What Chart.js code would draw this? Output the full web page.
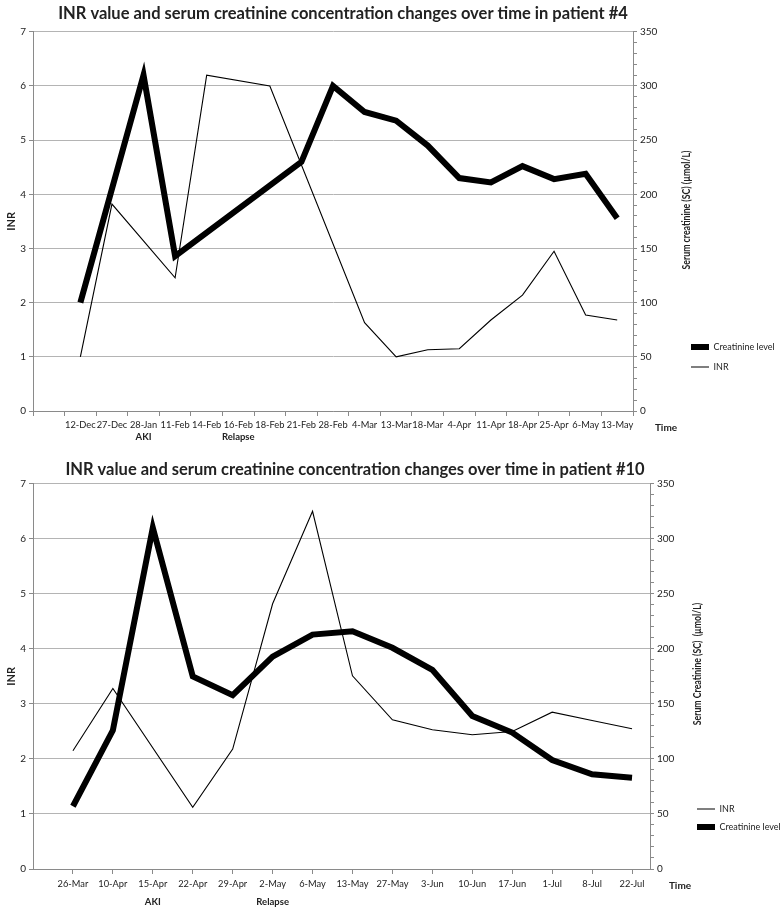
<!DOCTYPE html>
<html><head><meta charset="utf-8">
<script src="https://cdn.jsdelivr.net/npm/chart.js@4"></script>
<style>html,body{margin:0;padding:0;background:#fff} canvas{display:block}</style>
</head><body>
<canvas id="c1" width="782" height="455"></canvas>
<canvas id="c2" width="782" height="455"></canvas>
<script>
// ---------- Patient #4 ----------
const p4Title = 'INR value and serum creatinine concentration changes over time in patient #4';
const p4Dates = ['12-Dec','27-Dec','28-Jan','11-Feb','14-Feb','16-Feb','18-Feb','21-Feb','28-Feb','4-Mar','13-Mar','18-Mar','4-Apr','11-Apr','18-Apr','25-Apr','6-May','13-May'];
const p4Events = ['','','AKI','','','Relapse','','','','','','','','','','','',''];
const p4Creatinine = [100,null,310,143,null,null,null,230,300,276,268,245,215,211,226,214,219,178];
const p4INR = [1.0,3.82,null,2.46,6.2,null,6.0,null,null,1.63,1.0,1.13,1.15,1.68,2.14,2.95,1.77,1.68];
const p4RightTitle = 'Serum creatinine (SC) (\u00b5mol/L)';

// ---------- Patient #10 ----------
const p10Title = 'INR value and serum creatinine concentration changes over time in patient #10';
const p10Dates = ['26-Mar','10-Apr','15-Apr','22-Apr','29-Apr','2-May','6-May','13-May','27-May','3-Jun','10-Jun','17-Jun','1-Jul','8-Jul','22-Jul'];
const p10Events = ['','','AKI','','','Relapse','','','','','','','','',''];
const p10INR = [2.15,3.28,null,1.12,2.18,4.82,6.5,3.51,2.71,2.53,2.44,2.5,2.85,2.7,2.55];
const p10Creatinine = [57,126,310,175,158,193,213,216,201,181,139,124,99,86,83];
const p10RightTitle = 'Serum Creatinine (SC)  (\u00b5mol/L)';

// ---------- shared axis labels ----------
const inrTicks = [0,1,2,3,4,5,6,7];
const creatTicks = [0,50,100,150,200,250,300,350];
const creatMinorStep = 10;
const leftTitle = 'INR';
const timeLabel = 'Time';
const creatLabel = 'Creatinine level';
const inrLabel = 'INR';

Chart.defaults.font.family = 'Lato, "Open Sans", sans-serif';
Chart.defaults.color = '#222';

const GRID = '#b4b4b4';
const AXIS = '#8a8a8a';

function pts(arr){ return arr.map((v,i)=>({x:i, y:v})); }

const tweak = {
  id: 'tweak',
  afterLayout(chart, args, o) {
    const t = chart.titleBlock;
    if (t) { t.left += o.titleShift; t.right += o.titleShift; }
    const lg = chart.legend;
    if (lg) { lg.left = o.legendX; lg.top = o.legendY; lg.right = chart.width; lg.bottom = o.legendY + 80; }
  },
  afterDraw(chart, args, o) {
    const ctx = chart.ctx;
    ctx.save();
    ctx.fillStyle = '#222';
    ctx.font = 'bold 10.5px Lato, sans-serif';
    ctx.textAlign = 'center';
    ctx.textBaseline = 'middle';
    ctx.translate(o.rtX, o.rtY);
    ctx.rotate(-Math.PI/2);
    ctx.scale(0.83, 1);
    ctx.fillText(o.rightTitle, 0, 0);
    ctx.restore();
    ctx.save();
    ctx.fillStyle = '#222';
    ctx.font = 'bold 10px Lato, sans-serif';
    ctx.textAlign = 'center';
    ctx.textBaseline = 'middle';
    ctx.fillText(timeLabel, o.timeX, o.timeY);
    ctx.restore();
  }
};

function build(id, cfg) {
  const n = cfg.dates.length;
  const xTickVals = [];
  if (cfg.between) { for (let v = cfg.xMin; v <= cfg.xMax + 1e-9; v += 0.5) xTickVals.push(v); }
  else { for (let v = 0; v < n; v++) xTickVals.push(v); }
  const isLabel = v => Number.isInteger(v) && v >= 0 && v < n;
  new Chart(document.getElementById(id), {
    type: 'line',
    data: { datasets: cfg.series.map(s => ({
      label: s.label, data: pts(s.data), yAxisID: s.axis,
      borderColor: '#000', backgroundColor: '#000', borderWidth: s.width,
      pointRadius: 0, pointHoverRadius: 0, tension: 0, spanGaps: true,
      borderCapStyle: 'butt', borderJoinStyle: 'miter'
    })) },
    options: {
      responsive: false, animation: false,
      layout: { padding: 0 },
      plugins: {
        title: { display: true, text: cfg.title, color: '#222',
          font: { size: 16.5, weight: 'bold' }, padding: cfg.titlePad },
        legend: { display: true, position: 'chartArea', align: 'start',
          labels: { usePointStyle: true, pointStyle: 'line', pointStyleWidth: 18, boxHeight: 10,
            font: { size: 9 }, color: '#222', padding: cfg.legendPad } },
        tooltip: { enabled: false },
        tweak: cfg.tweak
      },
      scales: {
        x: { type: 'linear', position: 'bottom', min: cfg.xMin, max: cfg.xMax, weight: 0,
          afterBuildTicks: s => { s.ticks = xTickVals.map(v => ({ value: v })); },
          afterFit: s => { s.height = cfg.xH; },
          ticks: { autoSkip: false, maxRotation: 0, minRotation: 0, padding: cfg.xPad,
            font: { size: 9.3 }, color: '#222',
            callback: v => isLabel(v) ? cfg.dates[v] : '' },
          grid: { drawOnChartArea: false, tickLength: 5,
            tickColor: c => (cfg.between ? !Number.isInteger(c.tick.value) : true) ? AXIS : 'rgba(0,0,0,0)' },
          border: { color: AXIS }
        },
        x2: { type: 'linear', position: 'bottom', min: cfg.xMin, max: cfg.xMax, weight: 1,
          afterBuildTicks: s => { s.ticks = cfg.dates.map((d, i) => ({ value: i })); },
          afterFit: s => { s.height = cfg.x2H; },
          ticks: { autoSkip: false, maxRotation: 0, minRotation: 0, padding: cfg.x2Pad,
            font: { size: 9.5, weight: 'bold' }, color: '#222',
            callback: v => cfg.events[v] || '' },
          grid: { display: false, drawTicks: false },
          border: { display: false }
        },
        y: { type: 'linear', position: 'left', min: 0, max: 7,
          afterBuildTicks: s => { s.ticks = inrTicks.map(v => ({ value: v })); },
          afterFit: s => { s.width = 33; },
          ticks: { autoSkip: false, padding: 3, font: { size: 10 }, color: '#222' },
          grid: { color: GRID, tickLength: 4, tickColor: AXIS },
          border: { color: AXIS },
          title: { display: true, text: leftTitle, color: '#222', font: { size: 11, weight: 'bold' }, padding: { top: 5, bottom: 0 } }
        },
        y1: { type: 'linear', position: 'right', min: 0, max: 350,
          afterBuildTicks: s => { const t = []; for (let v = 0; v <= 350; v += creatMinorStep) t.push({ value: v }); s.ticks = t; },
          afterFit: s => { s.width = cfg.rightW; },
          ticks: { autoSkip: false, padding: 3, font: { size: 10 }, color: '#222',
            callback: v => creatTicks.includes(v) ? String(v) : '' },
          grid: { drawOnChartArea: false, tickLength: 4, tickColor: AXIS },
          border: { color: AXIS }
        }
      }
    },
    plugins: [tweak]
  });
}

build('c1', {
  title: p4Title, dates: p4Dates, events: p4Events,
  series: [
    { label: creatLabel, data: p4Creatinine, axis: 'y1', width: 6 },
    { label: inrLabel, data: p4INR, axis: 'y', width: 1.1 }
  ],
  xMin: -1.5, xMax: 17.5, between: true,
  xH: 20, xPad: 3, x2H: 24, x2Pad: 0,
  titlePad: { top: 4, bottom: 8 }, rightW: 149, legendPad: 11,
  tweak: { titleShift: -48, legendX: 680, legendY: 331.5, rtX: 687, rtY: 210, rightTitle: p4RightTitle, timeX: 666, timeY: 428 }
});

build('c2', {
  title: p10Title, dates: p10Dates, events: p10Events,
  series: [
    { label: inrLabel, data: p10INR, axis: 'y', width: 1.1 },
    { label: creatLabel, data: p10Creatinine, axis: 'y1', width: 6 }
  ],
  xMin: -1, xMax: 14.45, between: false,
  xH: 24, xPad: 4, x2H: 17, x2Pad: 3,
  titlePad: { top: 5, bottom: 4 }, rightW: 132, legendPad: 9,
  tweak: { titleShift: -36, legendX: 688, legendY: 340.5, rtX: 698, rtY: 209, rightTitle: p10RightTitle, timeX: 680, timeY: 431 }
});
</script>
</body></html>
